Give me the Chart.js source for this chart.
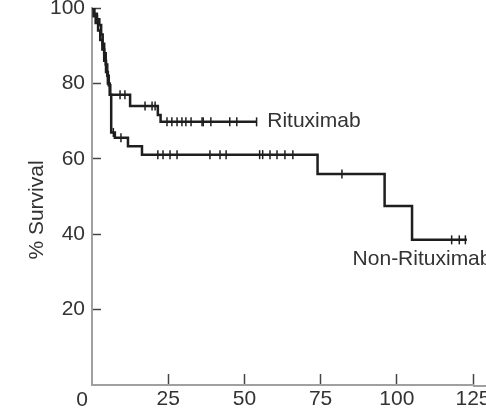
<!DOCTYPE html>
<html>
<head>
<meta charset="utf-8">
<script src="https://cdn.jsdelivr.net/npm/chart.js@4/dist/chart.umd.min.js"></script>
<style>
html, body { margin: 0; padding: 0; background: #fff; }
#survival { display: block; }
</style>
</head>
<body>
<canvas id="survival" width="486" height="410"></canvas>
<script>
// Kaplan-Meier steps: months and % surviving after each event
var ritMonths   = [0, 0.8, 1.6, 2.4, 3.0, 3.5, 4.0, 4.5, 5.0, 5.5, 6.0, 12.5, 21.6, 22.5, 54];
var ritSurvival = [100, 98.5, 97, 95.5, 93, 90.5, 88, 85, 82, 79.5, 77, 74, 71.6, 69.8, 69.8];

var nonMonths   = [0, 0.5, 1.2, 2.0, 2.7, 3.4, 4.0, 4.6, 5.2, 5.8, 6.3, 7.5, 11.8, 16.4, 74, 96, 105, 123];
var nonSurvival = [100, 97.8, 96, 94, 91.5, 89, 86, 83, 80, 77, 67, 65.6, 63.3, 61.1, 56, 47.5, 38.5, 38.5];

// censored patients
var ritCensorMonths   = [1.8, 9.2, 10.8, 17.4, 19.7, 20.7, 24.6, 26.2, 27.9, 29.5, 30.8, 32.5, 36.1, 36.5, 39, 45.2, 47.5, 54];
var ritCensorSurvival = [97, 77, 77, 74, 74, 74, 69.8, 69.8, 69.8, 69.8, 69.8, 69.8, 69.8, 69.8, 69.8, 69.8, 69.8, 69.8];

var nonCensorMonths   = [7.0, 9.5, 21.6, 23.3, 25.6, 27.9, 38.7, 42, 44, 55, 56, 58.4, 60.7, 63.3, 65.9, 82, 118, 120.5, 122.5];
var nonCensorSurvival = [67, 65.6, 61.1, 61.1, 61.1, 61.1, 61.1, 61.1, 61.1, 61.1, 61.1, 61.1, 61.1, 61.1, 61.1, 56, 38.5, 38.5, 38.5];

var xTicks = [0, 25, 50, 75, 100, 125];
var yTicks = [0, 20, 40, 60, 80, 100];

var groupNames = ['Rituximab', 'Non-Rituximab'];

function toPoints(xs, ys) {
    return xs.map(function (x, i) { return { x: x, y: ys[i] }; });
}

var FONT = '"Liberation Sans", Arial, Helvetica, sans-serif';
var INK = '#1e1e1e';

function curve(label, xs, ys) {
    return {
        label: label,
        data: toPoints(xs, ys),
        borderColor: INK,
        borderWidth: 2.5,
        stepped: true,
        pointRadius: 0,
        fill: false
    };
}

function censors(label, xs, ys) {
    return {
        label: label + ' censored',
        data: toPoints(xs, ys),
        showLine: false,
        pointStyle: 'line',
        rotation: 90,
        pointRadius: 4.5,
        pointBorderWidth: 1.5,
        pointBorderColor: INK,
        pointBackgroundColor: INK
    };
}

// group names written next to their curves, plus the shared origin "0" and y title
var textPlugin = {
    id: 'curveText',
    afterDraw: function (chart) {
        var ctx = chart.ctx;
        var xs = chart.scales.x, ys = chart.scales.y;
        ctx.save();

        // x axis line runs on to the edge
        ctx.strokeStyle = '#a0a0a0';
        ctx.lineWidth = 2;
        ctx.beginPath();
        ctx.moveTo(xs.right, ys.bottom + 1);
        ctx.lineTo(chart.width, ys.bottom + 1);
        ctx.stroke();

        ctx.fillStyle = '#333';
        ctx.font = '21px ' + FONT;
        ctx.textBaseline = 'middle';
        ctx.textAlign = 'left';
        ctx.fillText(groupNames[0], xs.getPixelForValue(57.5), ys.getPixelForValue(70));
        ctx.fillText(groupNames[1], xs.getPixelForValue(85.5), ys.getPixelForValue(33.5));

        ctx.textAlign = 'center';
        ctx.fillText('0', xs.left - 10, 400);

        ctx.translate(37, 210);
        ctx.rotate(-Math.PI / 2);
        ctx.fillText('% Survival', 0, 0);
        ctx.restore();
    }
};

function tickColor(c) {
    return c.tick && c.tick.value === 0 ? 'rgba(0,0,0,0)' : '#444';
}

var ctx = document.getElementById('survival').getContext('2d');
var chart = new Chart(ctx, {
    type: 'line',
    data: {
        datasets: [
            curve(groupNames[0], ritMonths, ritSurvival),
            curve(groupNames[1], nonMonths, nonSurvival),
            censors(groupNames[0], ritCensorMonths, ritCensorSurvival),
            censors(groupNames[1], nonCensorMonths, nonCensorSurvival)
        ]
    },
    options: {
        responsive: false,
        animation: false,
        devicePixelRatio: 1,
        layout: { padding: { top: 8, right: 13, left: 0, bottom: 0 } },
        plugins: {
            legend: { display: false },
            tooltip: { enabled: false }
        },
        scales: {
            x: {
                type: 'linear',
                min: 0,
                max: 125,
                afterBuildTicks: function (s) {
                    s.ticks = xTicks.map(function (v) { return { value: v }; });
                },
                afterFit: function (s) {
                    s.height = 25;
                    s.paddingLeft = 0;
                    s.paddingRight = 0;
                },
                border: { color: '#a0a0a0', width: 2 },
                grid: {
                    drawOnChartArea: false,
                    drawTicks: true,
                    tickLength: -11,
                    tickColor: tickColor,
                    tickWidth: 1.5
                },
                ticks: {
                    padding: 13,
                    color: '#333',
                    font: { family: FONT, size: 21 },
                    maxRotation: 0,
                    autoSkip: false,
                    callback: function (v) { return v === 0 ? '' : v; }
                }
            },
            y: {
                min: 0,
                max: 100,
                afterBuildTicks: function (s) {
                    s.ticks = yTicks.map(function (v) { return { value: v }; });
                },
                afterFit: function (s) {
                    s.width = 92;
                    s.paddingTop = 0;
                    s.paddingBottom = 0;
                },
                border: { color: '#a0a0a0', width: 2 },
                grid: {
                    drawOnChartArea: false,
                    drawTicks: true,
                    tickLength: -9,
                    tickColor: tickColor,
                    tickWidth: 1.5
                },
                ticks: {
                    padding: 16,
                    color: '#333',
                    font: { family: FONT, size: 21 },
                    autoSkip: false,
                    callback: function (v) { return v === 0 ? '' : v; }
                }
            }
        }
    },
    plugins: [textPlugin]
});
</script>
</body>
</html>
